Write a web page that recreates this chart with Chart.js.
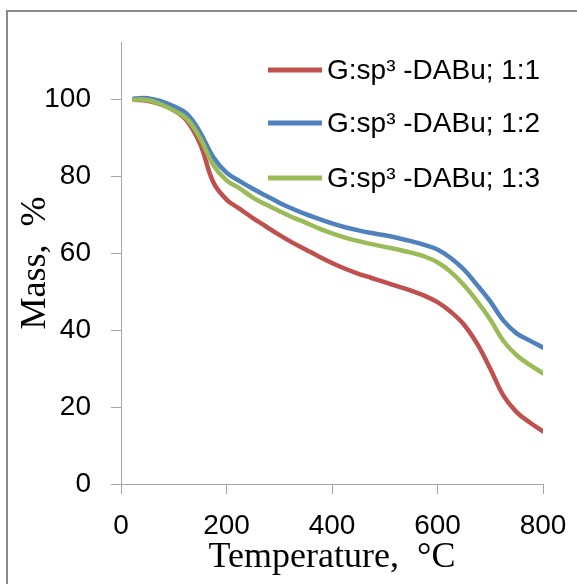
<!DOCTYPE html>
<html>
<head>
<meta charset="utf-8">
<script src="https://cdn.jsdelivr.net/npm/chart.js@4/dist/chart.umd.min.js"></script>
<style>
    html, body { margin: 0; padding: 0; background: #fff; }
    #wrap { position: relative; width: 577px; height: 584px; overflow: hidden; }
    #cadre { position: absolute; left: 6px; top: 10px; width: 640px; height: 640px; border: 2px solid #8a8a8a; }
    #main { position: absolute; left: 0; top: 0; }
</style>
</head>
<body>
<div id="wrap">
    <div id="cadre"></div>
    <canvas id="main" width="577" height="584"></canvas>
</div>
<script>
const temperatures = [25, 50, 75, 100, 125, 150, 175, 200, 225, 250, 275, 300, 325, 350, 375, 400, 425, 450, 475, 500, 525, 550, 575, 600, 625, 650, 675, 700, 725, 750, 775, 800];
const masse11 = [100, 99.7, 98.8, 97.3, 94.5, 88.5, 78.5, 74, 71.6, 69.2, 67, 64.8, 62.8, 61, 59.2, 57.5, 56, 54.7, 53.6, 52.5, 51.4, 50.3, 49, 47.3, 44.8, 41.5, 36.5, 30, 23, 18.7, 16, 13.7];
const masse12 = [100.3, 100.4, 99.6, 98.3, 96.3, 91.5, 85, 81, 78.8, 76.8, 75, 73.2, 71.6, 70.2, 69, 67.8, 66.8, 66, 65.3, 64.7, 64, 63.2, 62.2, 61, 58.8, 55.8, 51.8, 47.5, 42.5, 39.2, 37.3, 35.5];
const masse13 = [100, 99.9, 98.8, 97.2, 95, 90, 83, 79, 76.9, 74.5, 72.7, 71, 69.4, 68, 66.5, 65.2, 64.1, 63.2, 62.4, 61.7, 61, 60.2, 59.2, 57.7, 55.2, 51.8, 47.6, 42.8, 37.2, 33.5, 31, 28.8];
const seriesLabels = ['G:sp\u00B3 -DABu; 1:1', 'G:sp\u00B3 -DABu; 1:2', 'G:sp\u00B3 -DABu; 1:3'];
const xTicks = [0, 200, 400, 600, 800];
const yTicks = [0, 20, 40, 60, 80, 100];

const rougeColor = '#C0504D';
const bleuColor = '#4F81BD';
const vertColor = '#9BBB59';

function toPoints(values) {
    return temperatures.map((t, i) => ({ x: t, y: values[i] }));
}

/**
 * Légende dessinée dans la zone du graphique, avec un trait par série.
 */
const legendeInterne = {
    id: 'legendeInterne',
    afterDraw(chart) {
        const ctx = chart.ctx;
        const rows = [70, 123, 178];
        ctx.save();
        chart.data.datasets.forEach((ds, i) => {
            ctx.strokeStyle = ds.borderColor;
            ctx.lineWidth = 5;
            ctx.lineCap = 'butt';
            ctx.beginPath();
            ctx.moveTo(268, rows[i]);
            ctx.lineTo(322, rows[i]);
            ctx.stroke();
            ctx.fillStyle = '#000';
            ctx.font = '28px "Liberation Sans"';
            ctx.textBaseline = 'middle';
            ctx.textAlign = 'left';
            ctx.fillText(ds.label, 327, rows[i] + 1);
        });
        ctx.restore();
    }
};

function makeDataset(label, values, color, order) {
    return {
        label: label,
        data: toPoints(values),
        borderColor: color,
        backgroundColor: color,
        borderWidth: 4.5,
        borderCapStyle: 'round',
        borderJoinStyle: 'round',
        pointRadius: 0,
        tension: 0.4,
        showLine: true,
        order: order
    };
}

const axisColor = '#a6a6a6';

new Chart(document.getElementById('main').getContext('2d'), {
    type: 'scatter',
    data: {
        datasets: [
            makeDataset(seriesLabels[0], masse11, rougeColor, 3),
            makeDataset(seriesLabels[1], masse12, bleuColor, 2),
            makeDataset(seriesLabels[2], masse13, vertColor, 1)
        ]
    },
    options: {
        responsive: false,
        animation: false,
        layout: { padding: { top: 42, right: 34, left: 0, bottom: 0 } },
        scales: {
            x: {
                type: 'linear',
                min: 0,
                max: 800,
                afterFit: (scale) => {
                    scale.height = 100;
                    scale.paddingLeft = 0;
                    scale.paddingRight = 0;
                },
                afterBuildTicks: (scale) => { scale.ticks = xTicks.map(v => ({ value: v })); },
                grid: { drawOnChartArea: false, tickLength: 10, color: axisColor },
                border: { color: axisColor, width: 1 },
                ticks: { color: '#000', padding: 15, font: { family: 'Liberation Sans', size: 28 }, maxRotation: 0 },
                title: {
                    display: true,
                    text: 'Temperature,  \u00B0C',
                    color: '#000',
                    font: { family: 'Liberation Serif', size: 36 },
                    padding: { top: 0, bottom: 5 }
                }
            },
            y: {
                min: 0,
                max: 115,
                afterFit: (scale) => {
                    scale.width = 121;
                    scale.paddingTop = 0;
                    scale.paddingBottom = 0;
                },
                afterBuildTicks: (scale) => { scale.ticks = yTicks.map(v => ({ value: v })); },
                grid: { drawOnChartArea: false, tickLength: 10, color: axisColor },
                border: { color: axisColor, width: 1 },
                ticks: { color: '#000', padding: 20, font: { family: 'Liberation Sans', size: 28 } },
                title: {
                    display: true,
                    text: 'Mass,  %',
                    color: '#000',
                    font: { family: 'Liberation Serif', size: 36 },
                    padding: { top: 14, bottom: 0 }
                }
            }
        },
        plugins: {
            legend: { display: false },
            tooltip: { enabled: false }
        }
    },
    plugins: [legendeInterne]
});
</script>
</body>
</html>
